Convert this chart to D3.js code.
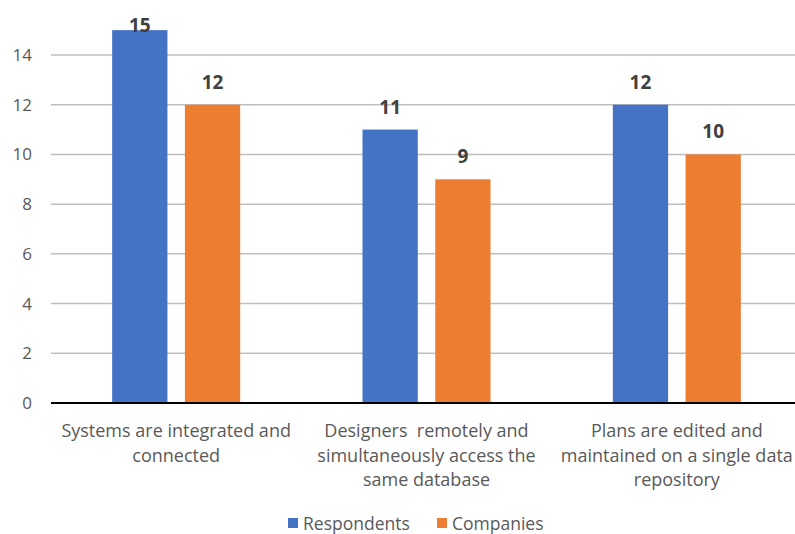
<!DOCTYPE html>
<html><head><meta charset="utf-8">
<script src="https://cdn.jsdelivr.net/npm/d3@7"></script>
<style>body{margin:0;background:#fff}svg{display:block;font-family:"Open Sans",sans-serif}</style>
</head><body>
<svg id="c" width="795" height="534"></svg>
<script>
const categories = [
  ["Systems are integrated and", "connected"],
  ["Designers  remotely and", "simultaneously access the", "same database"],
  ["Plans are edited and", "maintained on a single data", "repository"]
];
const seriesNames = ["Respondents", "Companies"];
const respondents = [15, 11, 12];
const companies = [12, 9, 10];
const yTicks = [0, 2, 4, 6, 8, 10, 12, 14];
const colors = ["#4472C4", "#ED7D31"];

const svg = d3.select("#c");
const catIdx = categories.map((d, i) => i);
const x = d3.scaleBand().domain(catIdx).range([51, 802]);
const y = d3.scaleLinear().domain([0, 14]).range([403, 55]);
const inner = d3.scaleBand().domain([0, 1]).range([0, 128]).paddingInner(0.24);

// gridlines
svg.append("g").selectAll("line").data(yTicks.filter(t => t > 0)).join("line")
  .attr("x1", 51).attr("x2", 795)
  .attr("y1", d => y(d)).attr("y2", d => y(d))
  .attr("stroke", "#bfbfbf").attr("stroke-width", 1.5);

// y axis labels
const yAxis = d3.axisLeft(y).tickValues(yTicks).tickSize(0).tickPadding(0);
const ya = svg.append("g").attr("transform", "translate(32,0)").call(yAxis);
ya.select(".domain").remove();
ya.selectAll("text").attr("fill", "#595959").attr("font-size", 17).attr("font-family", "Open Sans, sans-serif");

const data = [respondents, companies];
const groups = svg.append("g").selectAll("g").data(catIdx).join("g")
  .attr("transform", i => `translate(${x(i) + x.bandwidth() / 2 - 64},0)`);
groups.selectAll("rect").data(i => data.map((s, k) => ({k, v: s[i]}))).join("rect")
  .attr("x", d => inner(d.k)).attr("width", inner.bandwidth())
  .attr("y", d => y(d.v)).attr("height", d => y(0) - y(d.v))
  .attr("fill", d => colors[d.k]);
groups.selectAll("text").data(i => data.map((s, k) => ({k, v: s[i]}))).join("text")
  .attr("x", d => inner(d.k) + inner.bandwidth() / 2).attr("y", d => Math.max(y(d.v) - 16, 32))
  .attr("text-anchor", "middle").attr("font-size", 19).attr("font-weight", "bold")
  .attr("fill", "#404040").text(d => d.v);

// x axis line
svg.append("line").attr("x1", 51).attr("x2", 795).attr("y1", y(0)).attr("y2", y(0))
  .attr("stroke", "#000").attr("stroke-width", 2);

// category labels
svg.append("g").selectAll("text").data(catIdx).join("text")
  .attr("x", i => x(i) + x.bandwidth() / 2).attr("y", 437)
  .attr("text-anchor", "middle").attr("font-size", 18).attr("fill", "#595959")
  .selectAll("tspan").data(i => categories[i].map(l => ({l, x: x(i) + x.bandwidth() / 2}))).join("tspan")
  .attr("x", d => d.x).attr("dy", (d, j) => j === 0 ? 0 : 24.5)
  .style("white-space", "pre").text(d => d.l);

// legend
const leg = svg.append("g");
const legX = [288, 437];
seriesNames.forEach((n, k) => {
  leg.append("rect").attr("x", legX[k]).attr("y", 518).attr("width", 10).attr("height", 10).attr("fill", colors[k]);
  leg.append("text").attr("x", legX[k] + 15).attr("y", 530).attr("font-size", 17.5).attr("fill", "#595959").text(n);
});
</script>
</body></html>
